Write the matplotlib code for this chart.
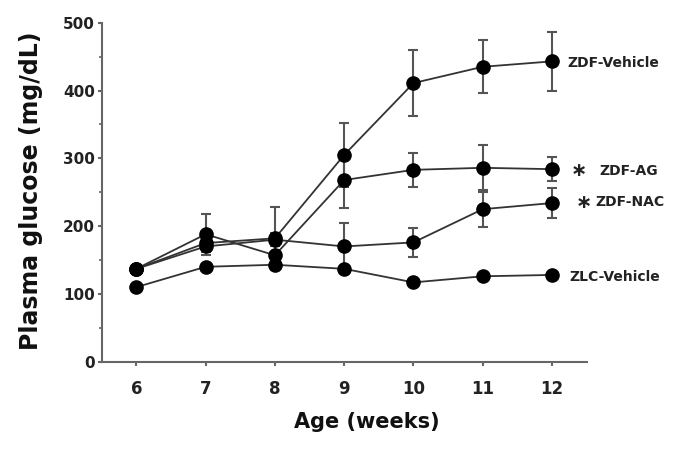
import matplotlib
matplotlib.use("Agg")
import matplotlib.pyplot as plt

# Data
weeks = [6, 7, 8, 9, 10, 11, 12]
zdf_vehicle = [137, 175, 182, 305, 411, 435, 443]
zdf_vehicle_err = [0, 0, 46, 47, 49, 39, 44]
zdf_ag = [137, 188, 157, 268, 283, 286, 284]
zdf_ag_err = [0, 30, 0, 42, 25, 33, 18]
zdf_nac = [137, 170, 180, 170, 176, 225, 234]
zdf_nac_err = [0, 8, 10, 35, 21, 26, 22]
zlc_vehicle = [110, 140, 143, 137, 117, 126, 128]
zlc_vehicle_err = [0, 0, 0, 0, 0, 0, 0]

labels = ["ZDF-Vehicle", "ZDF-AG", "ZDF-NAC", "ZLC-Vehicle"]
label_pos = [(12.22, 440), (12.68, 282), (12.63, 235), (12.25, 125)]
# significance stars next to the treated groups
star_pos = [(12.39, 282), (12.46, 235)]

fig = plt.figure(figsize=(6.89, 4.49), dpi=100)
ax = fig.add_axes([0.1476, 0.1944, 0.7039, 0.7550])

series = [(zdf_vehicle, zdf_vehicle_err), (zdf_ag, zdf_ag_err),
          (zdf_nac, zdf_nac_err), (zlc_vehicle, zlc_vehicle_err)]
for vals, err in series:
    ax.errorbar(weeks, vals, yerr=err, fmt='none', ecolor='#555555',
                elinewidth=1.5, capsize=3.5, capthick=1.5, zorder=2)
    ax.plot(weeks, vals, color='#333333', lw=1.3, marker='o', ms=9.5,
            mfc='black', mec='black', zorder=3)

for text, (x, y) in zip(labels, label_pos):
    ax.text(x, y, text, fontsize=10, fontweight='bold', va='center',
            ha='left', color='#222222', clip_on=False)
for x, y in star_pos:
    ax.text(x, y, "\u2217", fontsize=14, fontweight='bold', va='center',
            ha='center', color='#222222', clip_on=False)

ax.set_xlim(5.5, 12.5)
ax.set_ylim(0, 500)
ax.set_xticks(weeks)
ax.set_yticks([0, 100, 200, 300, 400, 500])
ax.set_yticks([50, 150, 250, 350, 450], minor=True)

for s in ['top', 'right']:
    ax.spines[s].set_visible(False)
for s in ['left', 'bottom']:
    ax.spines[s].set_color('#666666')
    ax.spines[s].set_linewidth(1.5)

ax.tick_params(axis='both', which='major', direction='out', length=3,
               width=1.5, color='#666666')
ax.tick_params(axis='y', which='minor', direction='out', length=2,
               width=1.2, color='#666666')
ax.tick_params(axis='x', labelsize=12, pad=10)
ax.tick_params(axis='y', labelsize=11, pad=2)
for lab in ax.get_xticklabels() + ax.get_yticklabels():
    lab.set_fontweight('bold')
    lab.set_color('#222222')

fig.text(0.045, 0.575, "Plasma glucose (mg/dL)", rotation=90, fontsize=17,
         fontweight='bold', ha='center', va='center', color='#111111')
fig.text(0.533, 0.061, "Age (weeks)", fontsize=15, fontweight='bold',
         ha='center', va='center', color='#111111')

fig.savefig("out.png", dpi=100)
